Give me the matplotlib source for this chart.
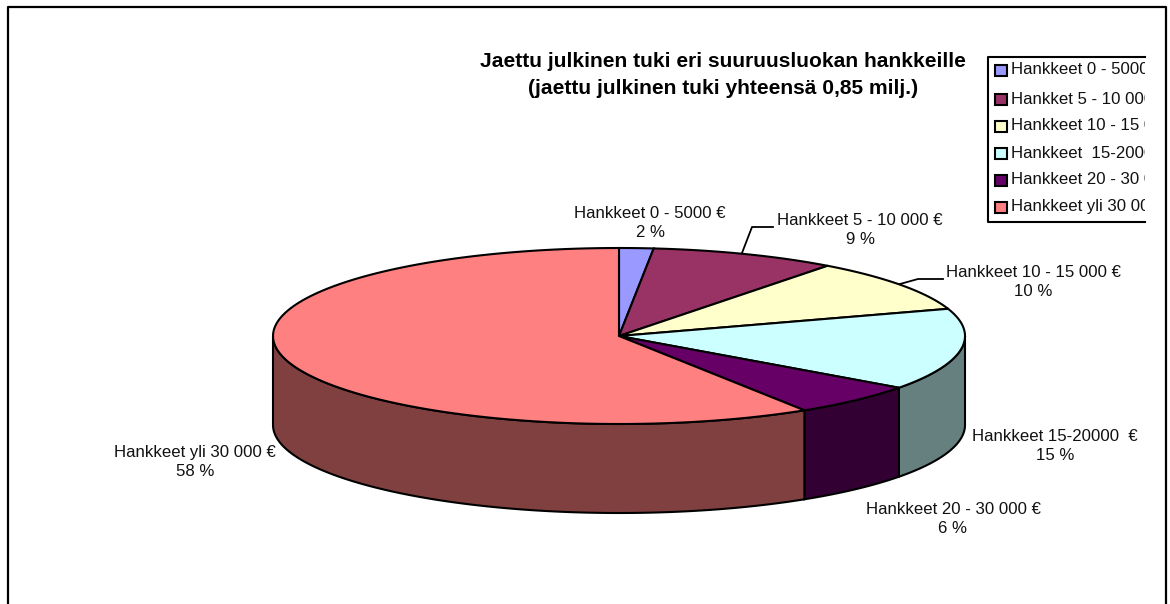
import numpy as np
import matplotlib
matplotlib.use('Agg')
import matplotlib.pyplot as plt
from matplotlib.patches import Polygon, Rectangle

plt.rcParams['font.family'] = ['Liberation Sans', 'DejaVu Sans']

# Arvot luettu kuvasta (osuudet = sektorin koko kuvassa, prosentit = kuvan etiketit)
otsikko = 'Jaettu julkinen tuki eri suuruusluokan hankkeille\n(jaettu julkinen tuki yhteensä 0,85 milj.)'
osuudet = [1.6, 8.7, 9.7, 15.0, 6.0, 59.0]
prosentit = ['2 %', '9 %', '10 %', '15 %', '6 %', '58 %']
etiketit = ['Hankkeet 0 - 5000 €', 'Hankkeet 5 - 10 000 €', 'Hankkeet 10 - 15 000 €',
            'Hankkeet 15-20000  €', 'Hankkeet 20 - 30 000 €', 'Hankkeet yli 30 000 €']
selite = ['Hankkeet 0 - 5000 €', 'Hankket 5 - 10 000 €', 'Hankkeet 10 - 15 000 €',
          'Hankkeet  15-20000 €', 'Hankkeet 20 - 30 000 €', 'Hankkeet yli 30 000 €']
varit = ['#9999FF', '#993366', '#FFFFCC', '#CCFFFF', '#660066', '#FF8080']
sivuvarit = ['#4C4C80', '#4C1A33', '#808066', '#668080', '#330033', '#804040']

# Piirakan mitat pikseleina
cx, cy, rx, ry, syvyys = 619, 336, 346, 88, 89

fig = plt.figure(figsize=(11.7, 6.04), dpi=100)
ax = fig.add_axes([0, 0, 1, 1])
ax.set_xlim(0, 1170)
ax.set_ylim(604, 0)
ax.axis('off')

# Ulkokehys (alareuna jaa kuvan ulkopuolelle)
ax.plot([8, 8, 1166, 1166], [604, 7, 7, 604], color='black', lw=1.6)


def kaari(a, b, dy=0):
    t = np.radians(np.linspace(a, b, 120))
    return np.column_stack([cx + rx * np.sin(t), cy + dy - ry * np.cos(t)])


rajat = np.concatenate([[0], np.cumsum(osuudet)]) / sum(osuudet) * 360

# Sivupinnat ensin (vain etupuoli 90-270 astetta)
for i in range(len(osuudet)):
    a = max(rajat[i], 90)
    b = min(rajat[i + 1], 270)
    if a < b:
        pts = np.vstack([kaari(a, b), kaari(a, b, syvyys)[::-1]])
        ax.add_patch(Polygon(pts, closed=True, facecolor=sivuvarit[i], edgecolor='black', lw=1.5))

# Kansi
for i in range(len(osuudet)):
    pts = np.vstack([[cx, cy], kaari(rajat[i], rajat[i + 1])])
    ax.add_patch(Polygon(pts, closed=True, facecolor=varit[i], edgecolor='black', lw=1.5))

# Viivat etiketteihin
ax.plot([742, 752, 773], [253, 227, 227], color='black', lw=1.3)
ax.plot([900, 918, 943], [284, 279, 279], color='black', lw=1.3)

# Etiketit
etiketti_x = [650, 860, 1033, 1055, 953, 195]
etiketti_y = [223, 230, 282, 446, 519, 462]
for i in range(len(etiketit)):
    ax.text(etiketti_x[i], etiketti_y[i], etiketit[i] + '\n' + prosentit[i], ha='center', va='center',
            fontsize=12.1, linespacing=1.41, color='#111111')

ax.text(723, 75, otsikko, ha='center', va='center', fontsize=15.1, fontweight='bold', linespacing=1.53)

# Selite, oikea reuna leikkautuu kuten alkuperaisessa
ax.plot([1145, 988, 988, 1145], [57, 57, 222, 222], color='black', lw=1.5)
selite_y = [70, 99, 126, 153, 180, 207]
leikkaus = Rectangle((988, 57), 157, 165, transform=ax.transData)
for i in range(len(selite)):
    ax.add_patch(Rectangle((995, selite_y[i] - 5.5), 12, 11, facecolor=varit[i], edgecolor='black', lw=1.5))
    t = ax.text(1011, selite_y[i], selite[i], ha='left', va='center', fontsize=12.1, color='#111111',
                clip_on=True)
    t.set_clip_path(leikkaus)

fig.savefig('out.png', dpi=100)
